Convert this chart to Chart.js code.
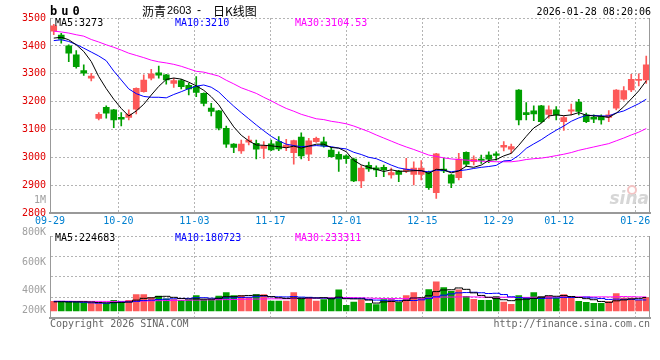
<!DOCTYPE html>
<html>
<head>
<meta charset="utf-8">
<script src="https://cdn.jsdelivr.net/npm/chart.js@4.4.1/dist/chart.umd.min.js"></script>
<style>
    html, body { margin: 0; padding: 0; background: #fff; }
    #wrap { position: relative; width: 660px; height: 360px; overflow: hidden; }
    #kline { position: absolute; left: 0; top: 0; }
    #vol { position: absolute; left: 0; top: 226px; }
</style>
</head>
<body>
<div id="wrap">
    <canvas id="kline" width="660" height="228"></canvas>
    <canvas id="vol" width="660" height="134"></canvas>
</div>
<script>
// trading days shown on the chart
const days = ['09-29','09-30','10-09','10-10','10-13','10-14','10-15','10-16','10-17','10-20',
    '10-21','10-22','10-23','10-24','10-27','10-28','10-29','10-30','10-31','11-03',
    '11-04','11-05','11-06','11-07','11-10','11-11','11-12','11-13','11-14','11-17',
    '11-18','11-19','11-20','11-21','11-24','11-25','11-26','11-27','11-28','12-01',
    '12-02','12-03','12-04','12-05','12-08','12-09','12-10','12-11','12-12','12-15',
    '12-16','12-17','12-18','12-19','12-22','12-23','12-24','12-25','12-26','12-29',
    '12-30','12-31','01-05','01-06','01-07','01-08','01-09','01-12','01-13','01-14',
    '01-15','01-16','01-19','01-20','01-21','01-22','01-23','01-26','01-27','01-28'];

const opens = [3453,3439,3400,3368,3312,3284,3140,3180,3171,3144,
    3144,3173,3236,3284,3304,3296,3266,3276,3259,3255,
    3230,3177,3167,3105,3048,3024,3055,3051,3033,3049,
    3057,3037,3018,3073,3012,3057,3056,3027,3012,3006,
    2995,2916,2972,2963,2965,2938,2952,2952,2940,2940,
    2946,2874,2959,2938,2928,3019,2985,2995,3009,3013,
    3037,3030,3242,3161,3167,3185,3155,3171,3129,3166,
    3199,3153,3144,3147,3144,3177,3209,3242,3276,3278];
const highs = [3477,3445,3404,3383,3332,3302,3161,3185,3173,3161,
    3171,3250,3296,3316,3328,3298,3284,3280,3266,3290,
    3232,3194,3169,3113,3050,3063,3077,3063,3057,3063,
    3075,3065,3063,3089,3069,3073,3073,3037,3021,3010,
    2998,2971,2984,2970,2973,2962,2954,2997,2985,2989,
    2952,3015,2997,2940,3015,3021,3006,3009,3021,3021,
    3057,3048,3244,3197,3185,3187,3185,3183,3149,3192,
    3209,3159,3153,3153,3168,3244,3254,3298,3300,3364];
const lows = [3440,3410,3344,3320,3294,3275,3135,3141,3107,3113,
    3135,3156,3234,3278,3284,3263,3251,3246,3224,3218,
    3185,3149,3099,3036,3018,3015,3045,2995,2997,3025,
    3025,3025,2976,2995,2989,3054,3037,3001,2950,2979,
    2914,2892,2950,2932,2932,2926,2914,2946,2902,2920,
    2886,2854,2946,2892,2920,2968,2974,2979,2982,2991,
    3024,3015,3117,3135,3132,3125,3141,3135,3097,3153,
    3153,3125,3125,3120,3129,3171,3206,3236,3257,3266];
const closes = [3472,3424,3374,3326,3302,3292,3155,3159,3135,3138,
    3156,3248,3278,3300,3295,3278,3276,3254,3246,3233,
    3194,3165,3105,3048,3036,3048,3063,3030,3042,3027,
    3031,3045,3061,3006,3060,3069,3042,3003,2994,2996,
    2916,2962,2959,2956,2956,2946,2940,2959,2962,2962,
    2892,3013,2952,2908,2995,2976,2995,2990,2994,3008,
    3044,3039,3135,3154,3156,3129,3171,3153,3143,3171,
    3165,3129,3138,3135,3153,3242,3240,3280,3280,3332];

// moving averages of the close
const ma5 = [3428,3431,3422,3404,3380,3344,3290,3247,3209,3176,
    3149,3167,3191,3224,3255,3280,3285,3281,3270,3257,
    3241,3218,3189,3149,3110,3080,3060,3045,3044,3042,
    3039,3035,3041,3034,3041,3048,3048,3036,3034,3021,
    2990,2974,2965,2958,2950,2956,2951,2951,2953,2954,
    2943,2958,2956,2945,2952,2969,2965,2973,2990,2993,
    3006,3015,3044,3076,3106,3123,3149,3153,3150,3153,
    3161,3152,3149,3148,3144,3159,3182,3210,3239,3275];
const ma10 = [3419,3422,3416,3405,3392,3378,3364,3347,3310,3278,
    3246,3229,3219,3216,3216,3214,3226,3236,3247,3256,
    3260,3252,3235,3209,3184,3161,3139,3117,3096,3076,
    3060,3048,3043,3039,3041,3043,3041,3039,3034,3031,
    3019,3011,3001,2996,2985,2973,2963,2958,2955,2952,
    2949,2955,2954,2949,2953,2956,2961,2965,2968,2972,
    2988,2990,3008,3033,3049,3064,3082,3098,3113,3130,
    3142,3151,3151,3149,3149,3160,3167,3180,3193,3209];
const ma30 = [3453,3450,3446,3440,3435,3423,3414,3404,3395,3385,
    3374,3366,3358,3349,3343,3339,3334,3327,3318,3309,
    3306,3299,3292,3277,3264,3250,3240,3230,3216,3203,
    3189,3176,3166,3155,3147,3139,3136,3130,3126,3121,
    3113,3103,3093,3081,3070,3059,3048,3038,3029,3019,
    3009,3004,2999,2995,2993,2991,2989,2987,2986,2985,
    2985,2985,2988,2993,2996,2998,3002,3007,3012,3018,
    3026,3032,3038,3044,3050,3060,3070,3081,3091,3104];

// volume in thousands, and its moving averages
const volumes = [159,159,148,159,135,138,121,121,175,148,
    175,274,274,220,246,203,187,175,175,257,
    187,187,246,307,257,257,220,274,274,164,
    164,164,307,220,220,164,187,220,353,93,
    148,180,126,105,187,187,139,257,307,203,
    356,487,390,328,353,241,192,175,175,241,
    148,110,257,220,307,241,241,213,274,230,
    159,143,126,126,154,290,213,213,175,220];
const volMa5 = [150,152,148,150,152,148,140,135,138,141,
    148,179,209,218,238,243,226,206,197,199,
    196,196,210,237,237,251,257,263,256,238,
    219,208,215,204,215,215,220,202,229,203,
    200,199,180,130,149,157,149,175,215,219,
    252,322,349,353,383,360,301,258,227,205,
    186,170,186,195,208,227,253,244,255,240,
    223,204,186,157,142,168,182,199,209,222];
const volMa10 = [158,158,156,150,142,134,128,126,136,146,
    148,159,172,178,189,196,202,208,208,219,
    220,211,208,217,218,224,227,237,247,237,
    235,233,239,230,226,217,214,208,216,209,
    208,209,191,180,176,179,174,178,173,184,
    205,235,262,284,301,306,311,303,290,294,
    273,235,222,211,207,207,212,215,225,224,
    225,229,215,206,191,196,193,193,183,182];
const volMa30 = [160,160,160,159,159,158,158,158,158,158,
    160,162,165,167,170,172,174,176,178,180,
    182,184,186,188,190,193,195,197,199,201,
    201,201,206,208,211,212,214,218,224,222,
    221,218,213,209,207,206,205,208,212,210,
    216,226,231,231,234,234,233,230,226,229,
    228,227,225,225,228,230,232,232,229,234,
    234,233,233,234,233,236,239,237,233,233];

// axis labels
const xTickLabels = ['09-29','10-20','11-03','11-17','12-01','12-15','12-29','01-12','01-26'];
const volTickLabels = ['200K','400K','600K','800K'];
const maHeader = ['MA5:3273', 'MA10:3210', 'MA30:3104.53'];
const volMaHeader = ['MA5:224683', 'MA10:180723', 'MA30:233311'];

const upColor = '#fd5959';
const downColor = '#009f00';
const maColors = ['#000000', '#0000ff', '#ff00ff'];
const gridColor = '#b4b4b4';
const frameColor = '#999999';
const mono = '"DejaVu Sans Mono", monospace';

Chart.defaults.font.family = mono;
Chart.defaults.font.size = 10;

const candleColors = closes.map((c, i) => c >= opens[i] ? upColor : downColor);
const xTickIdx = xTickLabels.map(l => days.indexOf(l));

// sina puts its date grid at 7.6 px per day across the 600 px plot
const gridStep = 7.6;
const plotWidth = 600;

function drawText(ctx, text, x, y, font, color, align) {
    ctx.font = font;
    ctx.fillStyle = color;
    ctx.textAlign = align || 'left';
    ctx.textBaseline = 'middle';
    ctx.fillText(text, x, y);
}

function rightBorder(chart) {
    const ctx = chart.ctx;
    const a = chart.chartArea;
    ctx.save();
    ctx.strokeStyle = frameColor;
    ctx.lineWidth = 1;
    ctx.beginPath();
    ctx.moveTo(a.right - 0.5, a.top);
    ctx.lineTo(a.right - 0.5, a.bottom);
    ctx.stroke();
    ctx.restore();
}

const mainOverlay = {
    id: 'mainOverlay',
    beforeDatasetsDraw(chart) {
        const ctx = chart.ctx;
        ctx.save();
        // sina watermark
        ctx.strokeStyle = '#f3c4c4';
        ctx.lineWidth = 2;
        ctx.beginPath();
        ctx.arc(632, 190, 4, 0, Math.PI * 2);
        ctx.stroke();
        drawText(ctx, 'sina', 649, 200, 'italic bold 17px "DejaVu Sans"', '#d6d6d6', 'right');
        ctx.restore();
    },
    afterDraw(chart) {
        const ctx = chart.ctx;
        rightBorder(chart);
        ctx.save();
        ctx.letterSpacing = '4px';
        drawText(ctx, 'bu0', 50, 12, 'bold 12px ' + mono, '#000');
        ctx.letterSpacing = '0px';
        drawText(ctx, '沥青', 142, 11, '12px "Noto Sans CJK SC"', '#000');
        drawText(ctx, '2603', 167, 11, '11px "Liberation Sans"', '#000');
        drawText(ctx, '-', 197, 11, '12px "Liberation Sans"', '#000');
        drawText(ctx, '日K线图', 213, 11, '12px "Noto Sans CJK SC"', '#000');
        drawText(ctx, '2026-01-28 08:20:06', 651, 12, '10px ' + mono, '#000', 'right');
        const xs = [55, 175, 295];
        maHeader.forEach((t, i) => drawText(ctx, t, xs[i], 23, '10px ' + mono, maColors[i]));
        drawText(ctx, '1M', 46, 200, '10px ' + mono, '#a0a0a0', 'right');
        ctx.restore();
    }
};

const volOverlay = {
    id: 'volOverlay',
    afterDraw(chart) {
        const ctx = chart.ctx;
        rightBorder(chart);
        ctx.save();
        const xs = [55, 175, 295];
        volMaHeader.forEach((t, i) => drawText(ctx, t, xs[i], 12.5, '10px ' + mono, maColors[i]));
        drawText(ctx, 'Copyright 2026 SINA.COM', 50, 98, '10px ' + mono, '#666');
        drawText(ctx, 'http://finance.sina.com.cn', 650, 98, '10px ' + mono, '#666', 'right');
        ctx.restore();
    }
};

function maLine(label, data, color, axis, stepped) {
    return {
        type: 'line',
        label: label,
        data: data,
        borderColor: color,
        borderWidth: 1,
        pointRadius: 0,
        tension: 0,
        stepped: stepped || false,
        yAxisID: axis,
        order: 0
    };
}

function dateGridAxis(showLabels, height, borderWidth) {
    return {
        type: 'linear',
        position: 'bottom',
        offset: false,
        bounds: 'data',
        min: 0,
        max: plotWidth / gridStep,
        afterBuildTicks: (scale) => { scale.ticks = xTickIdx.map(v => ({ value: v })); },
        afterFit: (scale) => {
            scale.height = height;
            scale.paddingLeft = 0;
            scale.paddingRight = 0;
        },
        ticks: {
            display: showLabels,
            autoSkip: false,
            maxRotation: 0,
            padding: 2,
            color: '#0080d0',
            callback: (v) => days[v]
        },
        grid: {
            offset: false,
            color: (c) => (c.tick && c.tick.value === 0) ? 'rgba(0,0,0,0)' : gridColor,
            drawTicks: false
        },
        border: { color: frameColor, width: borderWidth, dash: [2, 2] }
    };
}

// price panel
new Chart(document.getElementById('kline'), {
    type: 'bar',
    data: {
        labels: days,
        datasets: [
            maLine('MA5', ma5, maColors[0], 'y'),
            maLine('MA10', ma10, maColors[1], 'y'),
            maLine('MA30', ma30, maColors[2], 'y'),
            {
                label: 'body',
                data: days.map((d, i) => [Math.min(opens[i], closes[i]), Math.max(opens[i], closes[i])]),
                backgroundColor: candleColors,
                barThickness: 6,
                minBarLength: 1,
                grouped: false,
                yAxisID: 'y',
                order: 1
            },
            {
                label: 'wick',
                data: days.map((d, i) => [lows[i], highs[i]]),
                backgroundColor: candleColors,
                barThickness: 1,
                grouped: false,
                yAxisID: 'y',
                order: 2
            }
        ]
    },
    options: {
        responsive: false,
        animation: false,
        events: [],
        layout: { padding: { top: 18, right: 10, left: 0, bottom: 0 } },
        plugins: { legend: { display: false }, tooltip: { enabled: false } },
        scales: {
            x: { type: 'category', display: false, offset: true },
            xg: dateGridAxis(true, 14.6, 2),
            y: {
                position: 'left',
                min: 2800,
                max: 3500,
                afterFit: (scale) => { scale.width = 50; },
                ticks: { stepSize: 100, color: '#e00000', padding: 4, callback: (v) => String(v) },
                grid: { color: gridColor, drawTicks: false },
                border: { color: frameColor, width: 1, dash: [2, 2] }
            }
        }
    },
    plugins: [mainOverlay]
});

// volume panel: quarter grid and labels on 'yq', bars on 'yv'
const volGridAt = [1, 2, 3, 4];
const volLabelAt = [0.35, 1.33, 2.72, 4.17];

new Chart(document.getElementById('vol'), {
    type: 'bar',
    data: {
        labels: days,
        datasets: [
            maLine('MA5', volMa5, maColors[0], 'yv', 'middle'),
            maLine('MA10', volMa10, maColors[1], 'yv', 'middle'),
            maLine('MA30', volMa30, maColors[2], 'yv', 'middle'),
            {
                label: 'volume',
                data: volumes,
                backgroundColor: candleColors,
                barThickness: 6,
                yAxisID: 'yv',
                order: 1
            }
        ]
    },
    options: {
        responsive: false,
        animation: false,
        events: [],
        layout: { padding: { top: 8.3, right: 10, left: 0, bottom: 42.3 } },
        plugins: { legend: { display: false }, tooltip: { enabled: false } },
        scales: {
            x: { type: 'category', display: false, offset: true },
            xg: dateGridAxis(false, 0, 2),
            yv: { display: false, min: -115, max: 1253 },
            yq: {
                position: 'left',
                min: 0,
                max: 4,
                afterBuildTicks: (scale) => {
                    scale.ticks = volGridAt.concat(volLabelAt).sort((a, b) => a - b).map(v => ({ value: v }));
                },
                afterFit: (scale) => { scale.width = 50; },
                ticks: {
                    autoSkip: false,
                    color: '#a0a0a0',
                    padding: 4,
                    callback: (v) => {
                        const i = volLabelAt.indexOf(v);
                        return i >= 0 ? volTickLabels[i] : '';
                    }
                },
                grid: {
                    color: (c) => (c.tick && volGridAt.includes(c.tick.value)) ? gridColor : 'rgba(0,0,0,0)',
                    drawTicks: false
                },
                border: { color: frameColor, width: 1, dash: [2, 2] }
            }
        }
    },
    plugins: [volOverlay]
});
</script>
</body>
</html>
